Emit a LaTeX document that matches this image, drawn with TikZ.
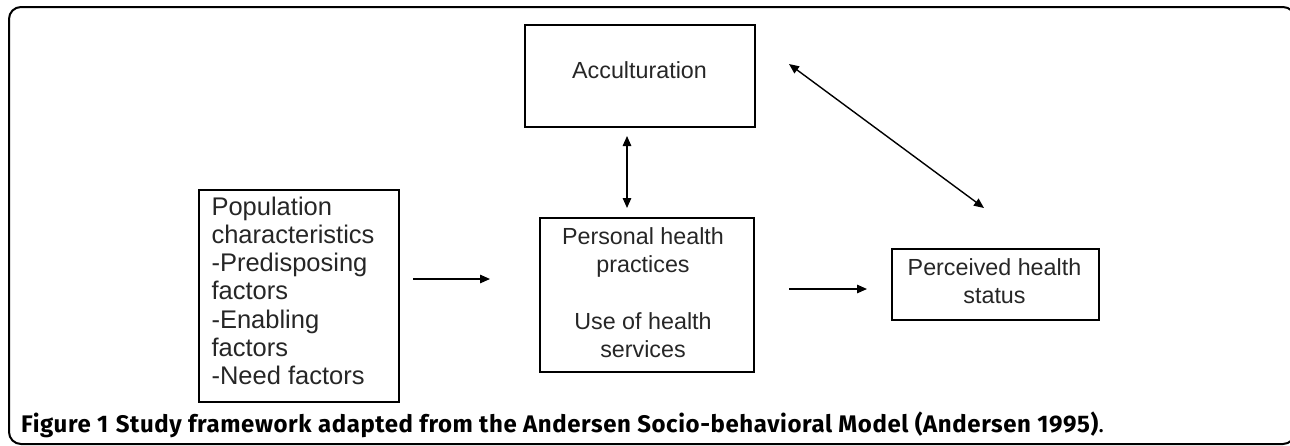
\documentclass[tikz,border=0pt]{standalone}
\usepackage{fontspec}
\setmainfont{Liberation Sans}
\newfontfamily\capfont[LetterSpace=2.5]{Fira Sans}
\usetikzlibrary{arrows.meta}
\tikzset{
  boxnode/.style={draw=black, line width=1.5pt, inner sep=0pt, anchor=north west},
  boxtext/.style={font=\fontsize{23.3}{28.3}\selectfont, color=black!85, align=center},
  poptext/.style={font=\fontsize{25.5}{28.3}\selectfont, color=black!85, align=left, anchor=north west},
  conn/.style={line width=1.4pt, -{Triangle[length=10pt,width=8.5pt]}},
  dconn/.style={line width=1.4pt, {Triangle[length=10pt,width=8.5pt]}-{Triangle[length=10pt,width=8.5pt]}},
}
\begin{document}
\begin{tikzpicture}[x=1pt, y=-1pt]
\useasboundingbox (0,0) rectangle (1290,445);
\draw[line width=2pt, rounded corners=12pt] (9,7) rectangle (1295,444);
% boxes
\node[boxnode, minimum width=230pt, minimum height=102pt] (acc) at (524,24) {};
\node[boxtext] (acct) at (639.5,70) {Acculturation};
\node[boxnode, minimum width=200pt, minimum height=212pt] (pop) at (198,189) {};
\node[poptext] (popt) at (208,193) {Population\\characteristics\\-Predisposing\\factors\\-Enabling\\factors\\-Need factors};
\node[boxnode, minimum width=214pt, minimum height=154pt] (php) at (539,217) {};
\node[boxtext, anchor=north] (phpt) at (643,224) {Personal health\\practices\\[28.3pt]Use of health\\services};
\node[boxnode, minimum width=207pt, minimum height=71pt] (per) at (891,248) {};
\node[boxtext, anchor=north] (pert) at (994.5,255) {Perceived health\\status};
% arrow end points
\coordinate (a1) at (413,279);
\coordinate (a2) at (490,279);
\coordinate (b1) at (789,289);
\coordinate (b2) at (867,289);
\coordinate (c1) at (627,136);
\coordinate (c2) at (627,208);
\coordinate (d1) at (789,64);
\coordinate (d2) at (984,208);
\draw[conn] (a1) -- (a2);
\draw[conn] (b1) -- (b2);
\draw[dconn] (c1) -- (c2);
\draw[dconn] (d1) -- (d2);
% caption
\node[anchor=base west, inner sep=0pt, font=\capfont\fontsize{24}{26}\selectfont] (cap) at (21,432) {\textbf{Figure 1} \textbf{Study framework adapted from the Andersen Socio-behavioral Model (Andersen 1995)}.};
\end{tikzpicture}
\end{document}
